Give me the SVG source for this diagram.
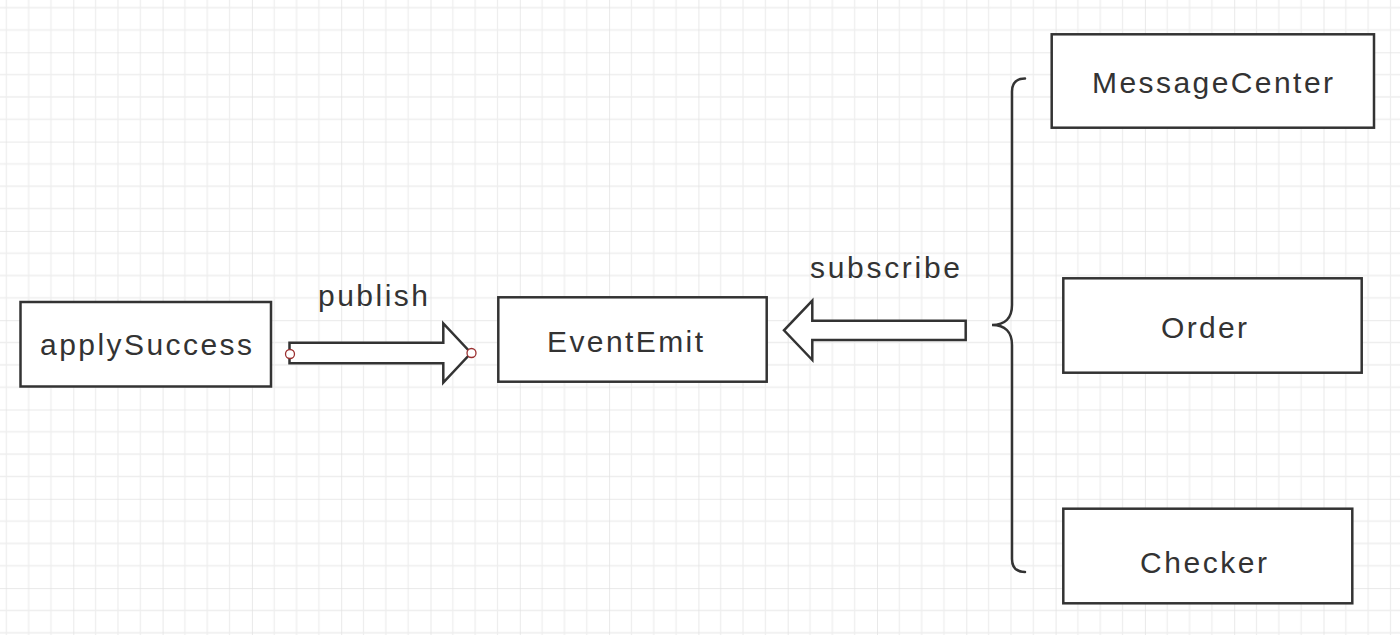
<svg xmlns="http://www.w3.org/2000/svg" width="1400" height="635" viewBox="0 0 1400 635">
  <style>
    .box { fill: #ffffff; stroke: #333333; stroke-width: 2.5; }
    .lbl { font-family: "Liberation Sans", Arial, sans-serif; font-size: 30px; fill: #333333; }
    .arrow { fill: #ffffff; stroke: #333333; stroke-width: 2.5; stroke-linejoin: miter; }
    .port { fill: #ffffff; stroke: #9b3030; stroke-width: 1.3; }
    .brace { fill: none; stroke: #333333; stroke-width: 2.5; stroke-linecap: round; }
  </style>
  <defs>
    <pattern id="grid" patternUnits="userSpaceOnUse" x="-16" y="-37" width="89.3" height="89.3">
      <path d="M22.33,0 V89.3 M44.65,0 V89.3 M66.98,0 V89.3 M0,22.33 H89.3 M0,44.65 H89.3 M0,66.98 H89.3" stroke="#eeeeee" stroke-width="1.3" fill="none"/>
      <path d="M0,0 V89.3 M0,0 H89.3" stroke="#e2e2e2" stroke-width="1.5" fill="none"/>
    </pattern>
  </defs>
  <rect x="0" y="0" width="1400" height="635" fill="#ffffff"/>
  <rect x="0" y="0" width="1400" height="635" fill="url(#grid)"/>

  <g id="connectors">
    <g id="publish-arrow">
      <polygon class="arrow" points="289.5,342.7 443.3,342.7 443.3,323.3 471,353 443.3,382.7 443.3,363.3 289.5,363.3"/>
      <circle class="port" cx="290" cy="354" r="4.5"/>
      <circle class="port" cx="471.5" cy="353" r="4.5"/>
      <text class="lbl" x="318" y="306" textLength="110" lengthAdjust="spacing">publish</text>
    </g>
    <g id="subscribe-arrow">
      <polygon class="arrow" points="965.7,320.7 812.3,320.7 812.3,300.7 784,330.3 812.3,360 812.3,340 965.7,340"/>
      <text class="lbl" x="810" y="278" textLength="150" lengthAdjust="spacing">subscribe</text>
    </g>
    <path id="brace" class="brace" d="M1025,78.5 Q1012,78.5 1012,91.5 L1012,305 C1012,318 1005,325 992,325 C1005,325 1012,332 1012,345 L1012,559 Q1012,572 1025,572"/>
  </g>

  <g id="applySuccess">
    <rect class="box" x="20.5" y="302" width="250.5" height="84.5"/>
    <text class="lbl" x="40" y="355" textLength="212" lengthAdjust="spacing">applySuccess</text>
  </g>
  <g id="EventEmit">
    <rect class="box" x="498.3" y="297.3" width="268.4" height="84.4"/>
    <text class="lbl" x="547" y="351.5" textLength="156" lengthAdjust="spacing">EventEmit</text>
  </g>
  <g id="MessageCenter">
    <rect class="box" x="1051.7" y="34.3" width="322.3" height="93.4"/>
    <text class="lbl" x="1092" y="93.3" textLength="241" lengthAdjust="spacing">MessageCenter</text>
  </g>
  <g id="Order">
    <rect class="box" x="1063.3" y="278.3" width="298.4" height="94.4"/>
    <text class="lbl" x="1161" y="337.5" textLength="86" lengthAdjust="spacing">Order</text>
  </g>
  <g id="Checker">
    <rect class="box" x="1063.3" y="508.7" width="289" height="94.6"/>
    <text class="lbl" x="1140" y="573.3" textLength="127" lengthAdjust="spacing">Checker</text>
  </g>
</svg>
